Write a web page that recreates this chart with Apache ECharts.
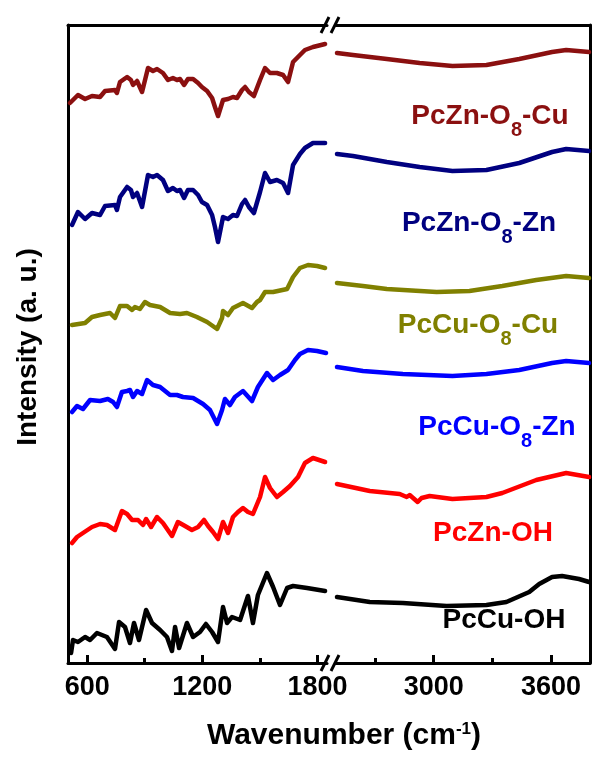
<!DOCTYPE html>
<html>
<head>
<meta charset="utf-8">
<script src="https://cdn.jsdelivr.net/npm/echarts@6/dist/echarts.min.js"></script>
<style>
  html, body { margin: 0; padding: 0; background: #fff; }
  #chart { width: 592px; height: 757px; }
</style>
</head>
<body>
<div id="chart"></div>
<script>
// FTIR spectra, stacked with vertical offsets. Each point is [wavenumber (cm-1), offset intensity (a.u.)].
// "fp" = fingerprint region (500-1850), "hi" = high-wavenumber region (2500-3800).

const pcZnO8Cu_fp = [[510,560],[552,568],[589,564],[625,567],[667,566],[693,572],[745,573],[755,570],[771,581],[808,586],[828,583],[839,578],[860,582],[886,571],[917,595],[943,592],[964,594],[995,590],[1021,583],[1047,585],[1068,583],[1084,584],[1105,578],[1125,584],[1152,584],[1178,580],[1198,576],[1225,572],[1251,565],[1266,556],[1282,547],[1308,563],[1334,564],[1360,566],[1381,565],[1407,573],[1423,576],[1443,571],[1469,567],[1501,583],[1527,595],[1553,590],[1589,590],[1621,588],[1647,581],[1673,601],[1709,608],[1735,613],[1777,616],[1840,619]];
const pcZnO8Cu_hi = [[2505,610],[2587,608],[2760,604],[2928,600],[3096,597],[3270,598],[3438,604],[3606,611],[3678,613],[3795,611]];

const pcZnO8Zn_fp = [[521,438],[552,451],[589,444],[625,450],[667,448],[693,457],[745,458],[755,453],[771,466],[808,476],[828,473],[839,466],[860,470],[886,456],[917,488],[943,486],[964,488],[995,483],[1021,472],[1047,475],[1068,472],[1084,473],[1105,465],[1125,473],[1152,473],[1178,468],[1198,461],[1225,458],[1251,448],[1266,436],[1282,421],[1308,446],[1334,444],[1360,448],[1381,447],[1407,459],[1423,463],[1443,456],[1469,450],[1501,471],[1527,490],[1553,481],[1589,483],[1621,480],[1647,470],[1673,498],[1709,509],[1735,515],[1777,520],[1840,520]];
const pcZnO8Zn_hi = [[2505,509],[2587,507],[2760,501],[2928,496],[3096,492],[3270,493],[3438,500],[3606,511],[3678,514],[3795,512]];

const pcCuO8Cu_fp = [[521,338],[589,340],[625,346],[667,348],[719,350],[745,345],[771,357],[808,357],[834,353],[849,356],[875,354],[901,361],[927,358],[980,356],[1032,350],[1084,349],[1120,350],[1172,346],[1225,341],[1277,334],[1303,345],[1308,352],[1334,348],[1360,355],[1412,360],[1459,355],[1485,361],[1501,363],[1527,371],[1569,371],[1642,374],[1673,386],[1709,395],[1751,398],[1798,397],[1840,395]];
const pcCuO8Cu_hi = [[2505,380],[2638,377],[2760,374],[3015,371],[3183,372],[3351,377],[3525,383],[3678,387],[3795,385]];

const pcCuO8Zn_fp = [[521,251],[547,257],[578,254],[615,263],[667,262],[708,264],[735,261],[755,256],[781,271],[808,272],[823,273],[839,266],[860,272],[886,269],[912,283],[943,278],[980,276],[1032,268],[1068,268],[1099,266],[1152,265],[1204,259],[1240,253],[1277,239],[1303,253],[1318,264],[1344,258],[1370,266],[1412,272],[1459,262],[1490,276],[1537,290],[1569,283],[1605,288],[1647,293],[1683,303],[1709,309],[1751,313],[1798,312],[1845,310]];
const pcCuO8Zn_hi = [[2505,296],[2638,292],[2842,289],[3096,287],[3270,289],[3438,293],[3606,300],[3678,302],[3795,300]];

const pcZnOH_fp = [[521,120],[547,126],[578,130],[625,136],[667,139],[703,138],[745,133],[781,152],[808,149],[834,143],[865,143],[891,138],[907,144],[933,136],[964,146],[995,140],[1042,127],[1073,141],[1110,137],[1146,133],[1178,136],[1209,143],[1230,137],[1256,131],[1282,124],[1308,141],[1334,130],[1360,146],[1386,151],[1412,155],[1438,151],[1464,149],[1501,166],[1527,186],[1553,175],[1589,166],[1621,171],[1657,177],[1699,186],[1735,200],[1777,205],[1840,201]];
const pcZnOH_hi = [[2505,179],[2673,172],[2826,169],[2862,166],[2877,168],[2918,161],[2938,165],[2979,167],[3096,164],[3270,166],[3351,170],[3525,183],[3678,190],[3795,186]];

const pcCuOH_fp = [[516,10],[526,23],[552,21],[589,26],[615,23],[651,30],[703,26],[745,14],[766,41],[797,36],[823,20],[844,40],[870,23],[907,53],[938,40],[980,33],[1016,26],[1042,12],[1058,36],[1079,15],[1120,40],[1152,26],[1188,31],[1219,39],[1251,31],[1282,21],[1308,56],[1329,40],[1355,46],[1397,43],[1438,67],[1464,40],[1490,68],[1537,90],[1569,76],[1605,58],[1642,75],[1673,77],[1746,75],[1840,72]];
const pcCuOH_hi = [[2505,66],[2673,61],[2842,60],[3066,57],[3270,58],[3372,61],[3489,71],[3540,79],[3606,86],[3657,87],[3744,84],[3795,81]];

// Sample names split as [before subscript, subscript, after subscript]
const sampleNames = [
  ['PcZn-O', '8', '-Cu'],
  ['PcZn-O', '8', '-Zn'],
  ['PcCu-O', '8', '-Cu'],
  ['PcCu-O', '8', '-Zn'],
  ['PcZn-OH', '', ''],
  ['PcCu-OH', '', '']
];
const sampleColors = ['#8b1010', '#000080', '#808000', '#0000ff', '#ff0000', '#000000'];
const sampleData = [
  [pcZnO8Cu_fp, pcZnO8Cu_hi],
  [pcZnO8Zn_fp, pcZnO8Zn_hi],
  [pcCuO8Cu_fp, pcCuO8Cu_hi],
  [pcCuO8Zn_fp, pcCuO8Zn_hi],
  [pcZnOH_fp, pcZnOH_hi],
  [pcCuOH_fp, pcCuOH_hi]
];

// Axis ranges and ticks
const lowRange = [500, 1850];
const highRange = [2500, 3800];
const majorTicksLow = [600, 1200, 1800];
const minorTicksLow = [900, 1500];
const majorTicksHigh = [3000, 3600];
const minorTicksHigh = [2700, 3300];
const intensityRange = [0, 638];

const FONT = '"Liberation Sans", Arial, sans-serif';
const AX = { color: '#000', width: 3 };

// Layout (pixels)
const plotTop = 25, plotBottom = 663;
const lowLeft = 68, lowRight = 327;
const highLeft = 336, highRight = 590;
const W = 592, H = 757;

function bottomAxis(grid, range, major) {
  return {
    gridIndex: grid, type: 'value', min: range[0], max: range[1], position: 'bottom',
    axisLine: { show: true, onZero: false, lineStyle: AX },
    axisTick: { show: true, inside: true, length: 8, lineStyle: AX, customValues: major },
    axisLabel: { show: true, customValues: major, margin: 11, color: '#000',
      fontSize: 27, fontWeight: 'bold', fontFamily: FONT, formatter: v => String(v) },
    splitLine: { show: false }
  };
}
function minorAxis(grid, range, minor) {
  return {
    gridIndex: grid, type: 'value', min: range[0], max: range[1], position: 'bottom',
    axisLine: { show: false, onZero: false },
    axisTick: { show: true, inside: true, length: 5, lineStyle: AX, customValues: minor },
    axisLabel: { show: false }, splitLine: { show: false }
  };
}
function topAxis(grid, range) {
  return {
    gridIndex: grid, type: 'value', min: range[0], max: range[1], position: 'top',
    axisLine: { show: true, onZero: false, lineStyle: AX },
    axisTick: { show: false }, axisLabel: { show: false }, splitLine: { show: false }
  };
}
function intensityAxis(grid, pos) {
  return {
    gridIndex: grid, type: 'value', min: intensityRange[0], max: intensityRange[1], position: pos,
    axisLine: { show: true, onZero: false, lineStyle: AX },
    axisTick: { show: false }, axisLabel: { show: false }, splitLine: { show: false }
  };
}

const series = [];
sampleData.forEach((pair, i) => {
  const base = {
    type: 'line', showSymbol: false, silent: true, animation: false,
    lineStyle: { color: sampleColors[i], width: 4.5, join: 'round', cap: 'round' },
    itemStyle: { color: sampleColors[i] }
  };
  series.push(Object.assign({}, base, { name: sampleNames[i].join('') + ' fp', xAxisIndex: 0, yAxisIndex: 0, data: pair[0] }));
  series.push(Object.assign({}, base, { name: sampleNames[i].join('') + ' hi', xAxisIndex: 3, yAxisIndex: 1, data: pair[1] }));
});

// Text measuring for the subscript layout
const measureCtx = document.createElement('canvas').getContext('2d');
function textWidth(str, size) {
  measureCtx.font = 'bold ' + size + 'px ' + FONT;
  return measureCtx.measureText(str).width;
}

// Sample label placement: [centre x, cap top y]
const labelPos = [[490, 106], [479, 213], [478, 315], [497, 417], [493, 523], [504, 610]];
const labelSize = 28, subSize = 20;

function sampleLabel(i) {
  const c = sampleColors[i];
  const n = sampleNames[i];
  const w0 = textWidth(n[0], labelSize);
  const w1 = n[1] ? textWidth(n[1], subSize) : 0;
  const w2 = n[2] ? textWidth(n[2], labelSize) : 0;
  const x0 = labelPos[i][0] - (w0 + w1 + w2) / 2;
  const capTop = labelPos[i][1];
  const parts = [{
    type: 'text', x: x0, y: capTop - 5, silent: true,
    style: { text: n[0], fill: c, font: 'bold ' + labelSize + 'px ' + FONT, lineHeight: 30, align: 'left', verticalAlign: 'top' }
  }];
  if (n[1]) parts.push({
    type: 'text', x: x0 + w0, y: capTop + 14, silent: true,
    style: { text: n[1], fill: c, font: 'bold ' + subSize + 'px ' + FONT, lineHeight: 20, align: 'left', verticalAlign: 'top' }
  });
  if (n[2]) parts.push({
    type: 'text', x: x0 + w0 + w1, y: capTop - 5, silent: true,
    style: { text: n[2], fill: c, font: 'bold ' + labelSize + 'px ' + FONT, lineHeight: 30, align: 'left', verticalAlign: 'top' }
  });
  return { type: 'group', silent: true, children: parts };
}

// Axis-break marks ("//") on top and bottom axes
function breakMarks(y) {
  const marks = [];
  [325, 335].forEach(cx => {
    marks.push({
      type: 'line', silent: true,
      shape: { x1: cx - 4, y1: y + 8, x2: cx + 4, y2: y - 8 },
      style: { stroke: '#000', lineWidth: 3 }
    });
  });
  return marks;
}

const graphics = [];
sampleNames.forEach((n, i) => graphics.push(sampleLabel(i)));
graphics.push(...breakMarks(plotTop), ...breakMarks(plotBottom));
graphics.push({
  type: 'text', x: 344, y: 727 - 6, silent: true,
  style: {
    text: '{b|Wavenumber (cm}{p|-1}{b|)}', align: 'center', verticalAlign: 'top',
    rich: {
      b: { fontSize: 30, fontWeight: 'bold', fontFamily: FONT, fill: '#000', lineHeight: 34, verticalAlign: 'top' },
      p: { fontSize: 17, fontWeight: 'bold', fontFamily: FONT, fill: '#000', lineHeight: 20, verticalAlign: 'top' }
    }
  }
});
graphics.push({
  type: 'text', x: 28, y: 347, rotation: Math.PI / 2, silent: true,
  style: {
    text: 'Intensity (a. u.)', align: 'center', verticalAlign: 'middle',
    font: 'bold 28px ' + FONT, fill: '#000'
  }
});

const chart = echarts.init(document.getElementById('chart'), null, { renderer: 'canvas' });
chart.setOption({
  animation: false,
  backgroundColor: '#fff',
  grid: [
    { left: lowLeft, right: W - lowRight, top: plotTop, bottom: H - plotBottom },
    { left: highLeft, right: W - highRight, top: plotTop, bottom: H - plotBottom }
  ],
  xAxis: [
    bottomAxis(0, lowRange, majorTicksLow),
    minorAxis(0, lowRange, minorTicksLow),
    topAxis(0, lowRange),
    bottomAxis(1, highRange, majorTicksHigh),
    minorAxis(1, highRange, minorTicksHigh),
    topAxis(1, highRange)
  ],
  yAxis: [intensityAxis(0, 'left'), intensityAxis(1, 'right')],
  series: series,
  graphic: graphics
});
</script>
</body>
</html>
